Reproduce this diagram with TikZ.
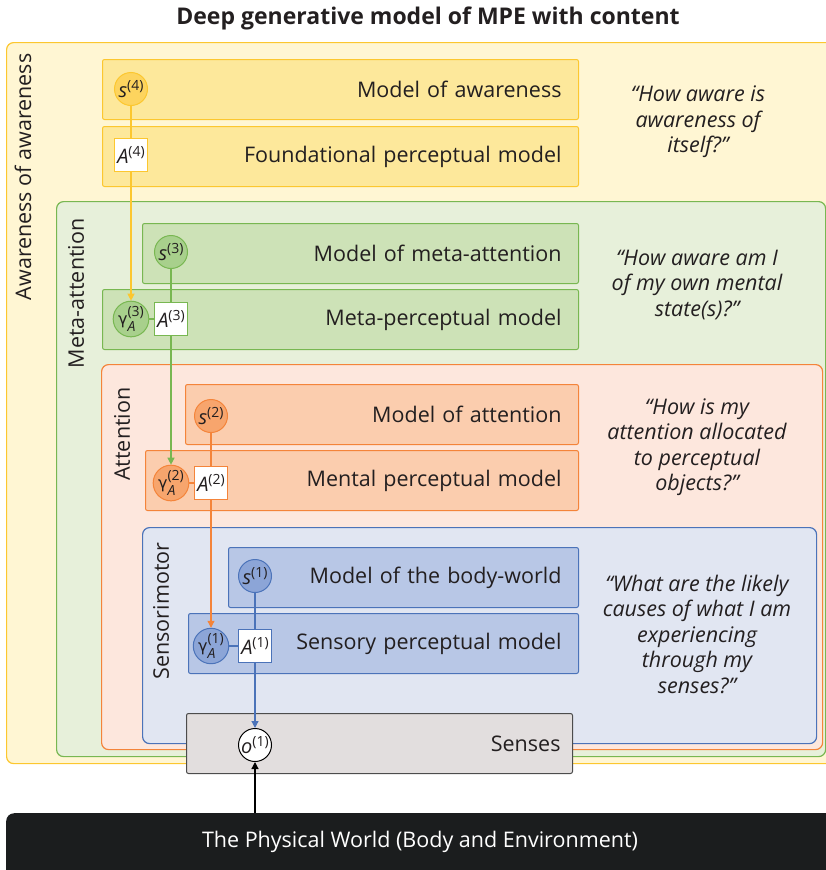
\documentclass[tikz,border=0pt]{standalone}
\usepackage{fontspec}
\setmainfont{Open Sans}
\newfontfamily\greekfont{DejaVu Sans}
\usetikzlibrary{arrows.meta,positioning}

\definecolor{yelline}{HTML}{FCC72F}
\definecolor{yelbg}{HTML}{FFF6D3}
\definecolor{yelbox}{HTML}{FDE89B}
\definecolor{yelnode}{HTML}{FDD45E}
\definecolor{grnline}{HTML}{78B751}
\definecolor{grnbg}{HTML}{E7F0DA}
\definecolor{grnbox}{HTML}{CDE2B7}
\definecolor{grnnode}{HTML}{A8D08C}
\definecolor{orgline}{HTML}{F4843A}
\definecolor{orgbg}{HTML}{FDE7DD}
\definecolor{orgbox}{HTML}{FBCDAE}
\definecolor{orgnode}{HTML}{F7A56D}
\definecolor{bluline}{HTML}{4B73B9}
\definecolor{blubg}{HTML}{E1E6F2}
\definecolor{blubox}{HTML}{B8C7E6}
\definecolor{blunode}{HTML}{8CA5D7}
\definecolor{inktext}{HTML}{231F20}
\definecolor{sensbg}{HTML}{E2DEDE}
\definecolor{worldbg}{HTML}{1B1D1E}

\newcommand{\mainsz}{\fontsize{21.5}{25}\selectfont}
\newcommand{\titlesz}{\fontsize{23}{27}\selectfont}
\newcommand{\qsz}{\fontsize{21.5}{25.5}\selectfont}
\newcommand{\nodesz}{\fontsize{20}{20}\selectfont}
\newcommand{\supsz}{\fontsize{14}{14}\selectfont}
\newcommand{\stvar}[1]{\textit{s}\raisebox{0.7ex}{\supsz(#1)}}
\newcommand{\Avar}[1]{\textit{A}\raisebox{0.7ex}{\supsz(#1)}}
\newcommand{\ovar}[1]{\textit{o}\raisebox{0.7ex}{\supsz(#1)}}
\newcommand{\gvar}[1]{{\greekfont\fontsize{16}{16}\selectfont γ}\rlap{\raisebox{-0.65ex}{\supsz\itshape A}}\raisebox{0.7ex}{\supsz(#1)}}

\begin{document}
\begin{tikzpicture}[x=1pt, y=-1pt,
  container/.style={draw, line width=1.2pt, rounded corners=7pt, anchor=north west, inner sep=0pt},
  model/.style={draw, line width=1pt, rounded corners=2pt, anchor=north west, minimum height=60pt, inner xsep=17pt, align=right, font=\mainsz, text=inktext},
  tier/.style={rotate=90, anchor=east, font=\mainsz, text=inktext},
  quest/.style={align=center, font=\qsz\itshape, text=inktext},
  vnode/.style={circle, draw, line width=1pt, minimum size=33pt, inner sep=0pt, font=\nodesz, text=inktext},
  mat/.style={draw, fill=white, line width=1pt, minimum size=33pt, inner sep=0pt, font=\nodesz, text=inktext},
  link/.style={line width=1.2pt},
  arr/.style={-{Triangle[length=7pt,width=7pt]}, line width=1.2pt}]
\useasboundingbox (0,0) rectangle (826,870);
\clip (0,0) rectangle (826,870);

\node[font=\titlesz\bfseries, text=inktext] (title) at (428,18) {Deep generative model of MPE with content};

% nested levels
\node[container, draw=yelline, fill=yelbg, minimum width=828pt, minimum height=721pt] (lvl4) at (6,42) {};
\node[container, draw=grnline, fill=grnbg, minimum width=769pt, minimum height=555pt] (lvl3) at (56,201) {};
\node[container, draw=orgline, fill=orgbg, minimum width=721pt, minimum height=385pt] (lvl2) at (101,364) {};
\node[container, draw=bluline, fill=blubg, minimum width=674pt, minimum height=216pt] (lvl1) at (142,527) {};

\node[tier] (lvl4lab) at (23,50) {Awareness of awareness};
\node[tier] (lvl3lab) at (76,215) {Meta-attention};
\node[tier] (lvl2lab) at (122,384) {Attention};
\node[tier] (lvl1lab) at (161,539) {Sensorimotor};

% model boxes
\node[model, draw=yelline, fill=yelbox, text width=442pt] (moa) at (102,59) {Model of awareness};
\node[model, draw=yelline, fill=yelbox, text width=442pt] (fpm) at (102,126) {Foundational perceptual model};
\node[model, draw=grnline, fill=grnbox, text width=402pt] (mma) at (142,223) {Model of meta-attention};
\node[model, draw=grnline, fill=grnbox, text width=442pt] (mpm) at (102,289) {Meta-perceptual model};
\node[model, draw=orgline, fill=orgbox, text width=359pt] (mat) at (185,384) {Model of attention};
\node[model, draw=orgline, fill=orgbox, text width=399pt] (mep) at (145,450) {Mental perceptual model};
\node[model, draw=bluline, fill=blubox, text width=316pt] (mbw) at (228,547) {Model of the body-world};
\node[model, draw=bluline, fill=blubox, text width=356pt] (spm) at (188,613) {Sensory perceptual model};

% questions
\node[quest] (q4) at (698,122) {“How aware is\\awareness of\\itself?”};
\node[quest] (q3) at (697,285) {“How aware am I\\of my own mental\\state(s)?”};
\node[quest] (q2) at (697,447) {“How is my\\attention allocated\\to perceptual\\objects?”};
\node[quest] (q1) at (697,634) {“What are the likely\\causes of what I am\\experiencing\\through my\\senses?”};

% senses and world
\node[draw=black!70, line width=1pt, fill=sensbg, rounded corners=2pt, anchor=north west, minimum height=60pt, inner xsep=12pt, text width=362pt, align=right, font=\mainsz, text=inktext] (senses) at (186,713) {Senses};
\node[fill=worldbg, rounded corners=8pt, anchor=north west, minimum width=840pt, minimum height=80pt] (world) at (6,813) {};
\node[font=\mainsz, text=white] (worldlab) at (420,842) {The Physical World (Body and Environment)};

% variables
\node[vnode, draw=yelline, fill=yelnode] (s4) at (131,89) {\stvar{4}};
\node[mat, draw=yelline] (A4) at (131,155) {\Avar{4}};
\node[vnode, draw=grnline, fill=grnnode] (s3) at (171,252) {\stvar{3}};
\node[vnode, draw=grnline, fill=grnnode] (g3) at (131,319) {\gvar{3}};
\node[mat, draw=grnline] (A3) at (171,319) {\Avar{3}};
\node[vnode, draw=orgline, fill=orgnode] (s2) at (211,416) {\stvar{2}};
\node[vnode, draw=orgline, fill=orgnode] (g2) at (171,483) {\gvar{2}};
\node[mat, draw=orgline] (A2) at (211,483) {\Avar{2}};
\node[vnode, draw=bluline, fill=blunode] (s1) at (255,576) {\stvar{1}};
\node[vnode, draw=bluline, fill=blunode] (g1) at (211,646) {\gvar{1}};
\node[mat, draw=bluline] (A1) at (255,646) {\Avar{1}};
\node[vnode, draw=black, fill=white] (o1) at (255,745) {\ovar{1}};

\draw[link, yelline] (s4) -- (A4);
\draw[arr, yelline] (A4) -- (g3);
\draw[link, grnline] (s3) -- (A3);
\draw[link, grnline] (g3) -- (A3);
\draw[arr, grnline] (A3) -- (g2);
\draw[link, orgline] (s2) -- (A2);
\draw[link, orgline] (g2) -- (A2);
\draw[arr, orgline] (A2) -- (g1);
\draw[link, bluline] (s1) -- (A1);
\draw[link, bluline] (g1) -- (A1);
\draw[arr, bluline] (A1) -- (o1);
\draw[arr, black] (world.north -| o1) -- (o1);
\end{tikzpicture}
\end{document}
